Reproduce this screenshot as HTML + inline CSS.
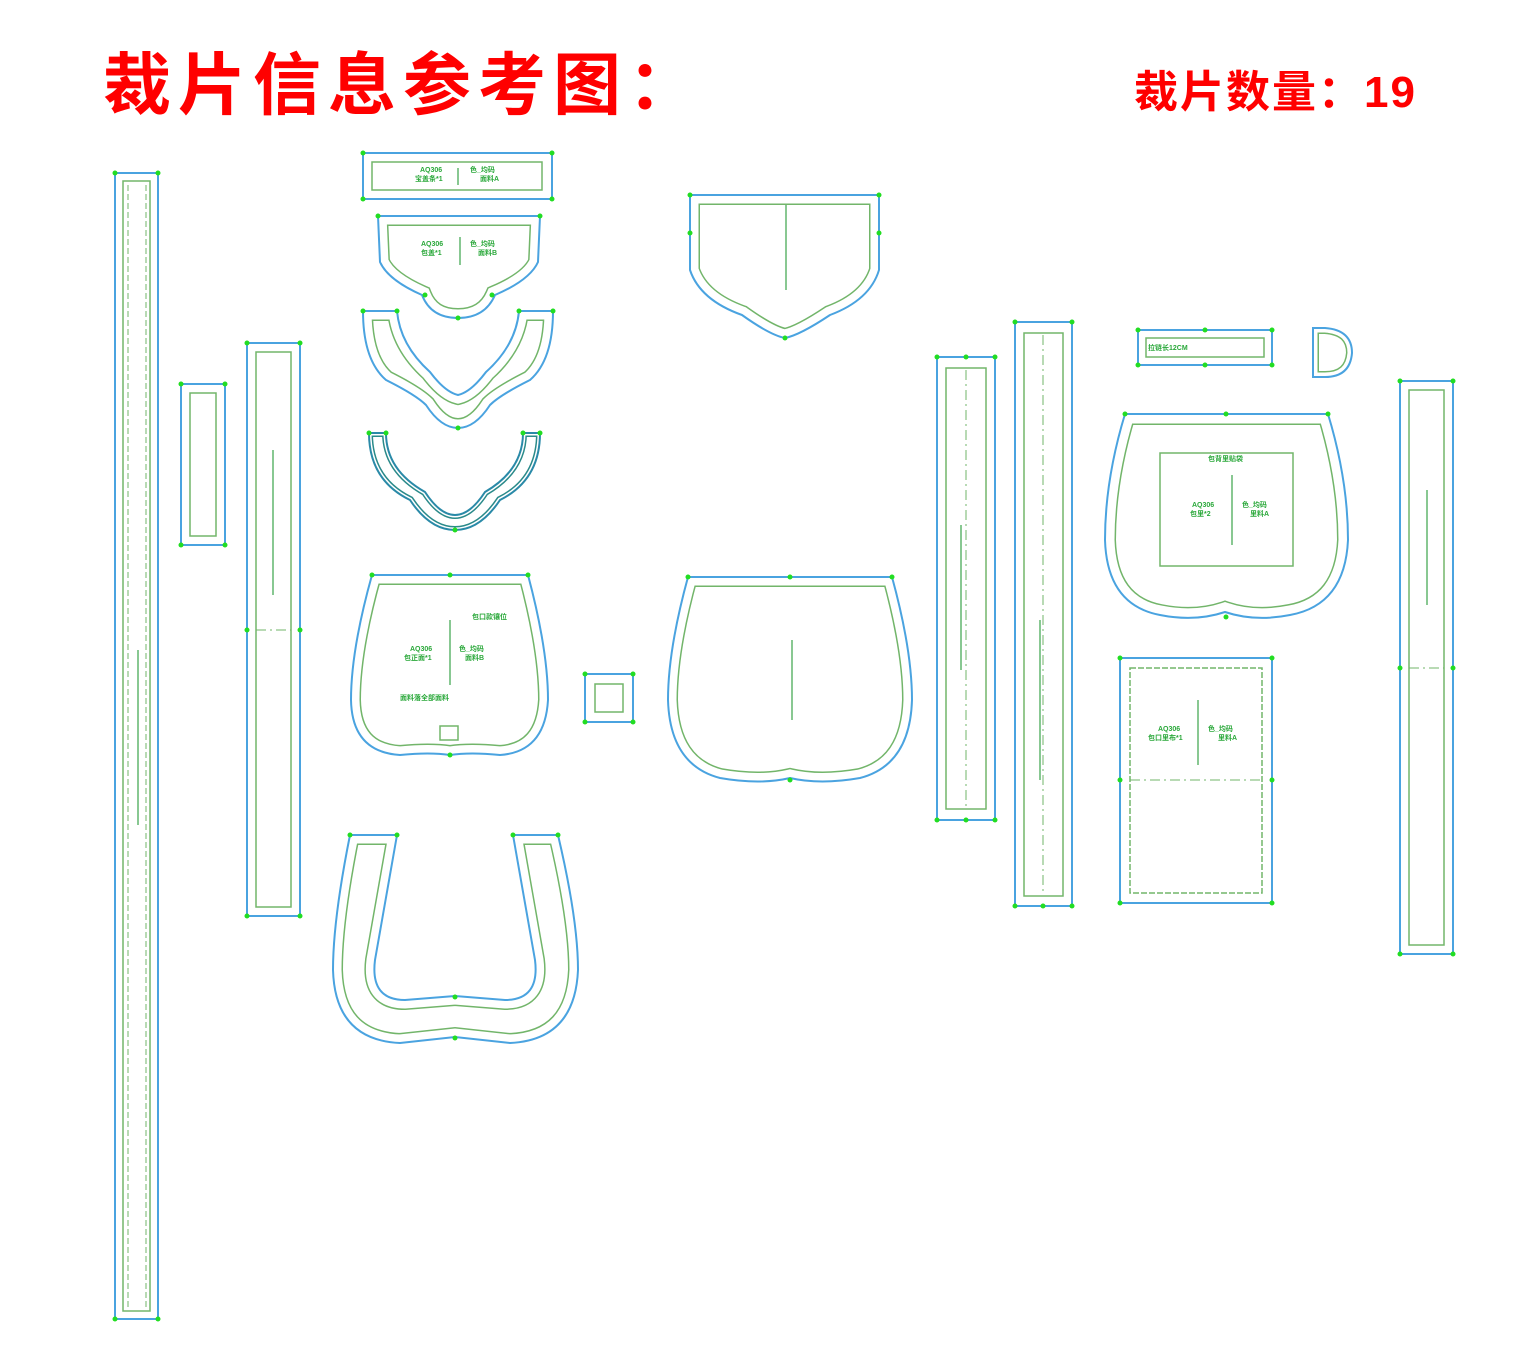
<!DOCTYPE html>
<html><head><meta charset="utf-8"><style>
html,body{margin:0;padding:0;background:#fff;}
body{width:1526px;height:1357px;position:relative;overflow:hidden;font-family:"Liberation Sans","Noto Sans CJK SC",sans-serif;}
.t1{position:absolute;left:103px;top:30px;font-size:68px;font-weight:bold;color:#f00;letter-spacing:7px;font-family:"Liberation Sans","Noto Sans CJK SC",sans-serif;}
.t2{position:absolute;left:1134px;top:56px;font-size:44px;font-weight:bold;color:#f00;letter-spacing:2px;font-family:"Liberation Sans","Noto Sans CJK SC",sans-serif;}
</style></head><body>
<div class="t1">裁片信息参考图：</div>
<div class="t2">裁片数量：19</div>
<svg width="1526" height="1357" style="position:absolute;left:0;top:0" xmlns="http://www.w3.org/2000/svg">
<defs>
<path id="p5" d="M378,216 L540,216 L538,262 Q530,280 495,295 Q485,318 458,318 Q431,318 422,295 Q388,280 380,262 Z"/>
<path id="p6" d="M363,311 L397,311 Q400,345 430,372 Q445,392 458,395 Q471,392 486,372 Q516,345 519,311 L553,311 Q553,360 530,380 Q500,395 490,405 Q475,428 458,428 Q441,428 426,405 Q416,395 386,380 Q363,360 363,311Z"/>
<path id="p7" d="M369,433 L386,433 Q386,470 425,492 Q440,515 455,515 Q470,515 485,492 Q523,470 523,433 L540,433 Q540,480 500,500 Q480,530 455,530 Q430,530 410,500 Q369,480 369,433Z"/>
<path id="p8" d="M372,575 L528,575 Q548,650 548,700 Q545,752 500,755 Q470,752 450,755 Q430,752 400,755 Q352,752 351,700 Q351,650 372,575Z"/>
<path id="p10" d="M350,835 L397,835 L375,960 Q370,1000 405,1000 L455,996 L505,1000 Q540,1000 535,960 L513,835 L558,835 Q578,920 578,970 Q575,1040 510,1043 L455,1037 L400,1043 Q335,1040 333,970 Q333,920 350,835Z"/>
<path id="p11" d="M690,195 L879,195 L879,270 Q870,300 830,315 Q800,335 785,338 Q770,335 742,315 Q700,300 690,270 Z"/>
<path id="p12" d="M688,577 L892,577 Q912,650 912,700 Q910,765 860,778 Q820,785 790,778 Q760,785 720,778 Q670,765 668,700 Q668,650 688,577 Z"/>
<path id="p16" d="M1313,328 L1325,328 Q1352,330 1352,353 Q1350,377 1325,377 L1313,377 Z"/>
<path id="p17" d="M1125,414 L1328,414 Q1348,480 1348,540 Q1345,605 1290,615 Q1255,622 1225,612 Q1195,622 1160,615 Q1107,605 1105,540 Q1105,480 1125,414Z"/>
<clipPath id="c5"><use href="#p5"/></clipPath>
<clipPath id="c6"><use href="#p6"/></clipPath>
<clipPath id="c7"><use href="#p7"/></clipPath>
<clipPath id="c8"><use href="#p8"/></clipPath>
<clipPath id="c10"><use href="#p10"/></clipPath>
<clipPath id="c11"><use href="#p11"/></clipPath>
<clipPath id="c12"><use href="#p12"/></clipPath>
<clipPath id="c16"><use href="#p16"/></clipPath>
<clipPath id="c17"><use href="#p17"/></clipPath>
</defs>
<g fill="none">
<g stroke="#72b56a">
<use href="#p5" stroke-width="20" clip-path="url(#c5)"/>
<use href="#p6" stroke-width="20" clip-path="url(#c6)"/>
<use href="#p7" stroke-width="8" clip-path="url(#c7)" stroke="#2a8a8a"/>
<use href="#p8" stroke-width="20" clip-path="url(#c8)"/>
<use href="#p10" stroke-width="20" clip-path="url(#c10)"/>
<use href="#p11" stroke-width="20" clip-path="url(#c11)"/>
<use href="#p12" stroke-width="20" clip-path="url(#c12)"/>
<use href="#p16" stroke-width="12" clip-path="url(#c16)"/>
<use href="#p17" stroke-width="22" clip-path="url(#c17)"/>
</g>
<g stroke="#fff">
<use href="#p5" stroke-width="17" clip-path="url(#c5)"/>
<use href="#p6" stroke-width="17" clip-path="url(#c6)"/>
<use href="#p7" stroke-width="5" clip-path="url(#c7)"/>
<use href="#p8" stroke-width="17" clip-path="url(#c8)"/>
<use href="#p10" stroke-width="17" clip-path="url(#c10)"/>
<use href="#p11" stroke-width="17" clip-path="url(#c11)"/>
<use href="#p12" stroke-width="17" clip-path="url(#c12)"/>
<use href="#p16" stroke-width="9" clip-path="url(#c16)"/>
<use href="#p17" stroke-width="19" clip-path="url(#c17)"/>
</g>
<g stroke="#4aa3e0" stroke-width="2">
<use href="#p5"/><use href="#p6"/><use href="#p7" stroke="#2a8aa8"/><use href="#p8"/><use href="#p10"/><use href="#p11"/><use href="#p12"/><use href="#p16"/><use href="#p17"/>
</g>
<g stroke="#4aa3e0" stroke-width="2">
<rect x="115" y="173" width="43" height="1146"/>
<rect x="181" y="384" width="44" height="161"/>
<rect x="247" y="343" width="53" height="573"/>
<rect x="363" y="153" width="189" height="46"/>
<rect x="585" y="674" width="48" height="48"/>
<rect x="937" y="357" width="58" height="463"/>
<rect x="1015" y="322" width="57" height="584"/>
<rect x="1138" y="330" width="134" height="35"/>
<rect x="1120" y="658" width="152" height="245"/>
<rect x="1400" y="381" width="53" height="573"/>
</g>
<g stroke="#72b56a" stroke-width="1.5">
<rect x="123" y="181" width="27" height="1130"/>
<rect x="190" y="393" width="26" height="143"/>
<rect x="256" y="352" width="35" height="555"/>
<rect x="372" y="162" width="170" height="28"/>
<rect x="595" y="684" width="28" height="28"/>
<rect x="946" y="368" width="40" height="441"/>
<rect x="1024" y="333" width="39" height="563"/>
<rect x="1146" y="338" width="118" height="19"/>
<rect x="1130" y="668" width="132" height="225" stroke-dasharray="6 2"/>
<rect x="1409" y="390" width="35" height="555"/>
<rect x="1160" y="453" width="133" height="113"/>
<rect x="440" y="726" width="18" height="14"/>
</g>
<g stroke="#72b56a" stroke-width="1" stroke-dasharray="10 4 2 4">
<line x1="966" y1="370" x2="966" y2="808"/>
<line x1="1043" y1="335" x2="1043" y2="895"/>
<line x1="1130" y1="780" x2="1262" y2="780"/>
<line x1="256" y1="630" x2="291" y2="630"/>
<line x1="1409" y1="668" x2="1444" y2="668"/>
<line x1="128" y1="185" x2="128" y2="1308" stroke-dasharray="6 3"/>
<line x1="146" y1="185" x2="146" y2="1308" stroke-dasharray="6 3"/>
</g>
<g stroke="#3aa34a" stroke-width="1.2">
<line x1="138" y1="650" x2="138" y2="825"/>
<line x1="273" y1="450" x2="273" y2="595"/>
<line x1="450" y1="620" x2="450" y2="685"/>
<line x1="792" y1="640" x2="792" y2="720"/>
<line x1="786" y1="205" x2="786" y2="290"/>
<line x1="961" y1="525" x2="961" y2="670"/>
<line x1="1040" y1="620" x2="1040" y2="780"/>
<line x1="1232" y1="475" x2="1232" y2="545"/>
<line x1="1198" y1="700" x2="1198" y2="765"/>
<line x1="1427" y1="490" x2="1427" y2="605"/>
<line x1="460" y1="237" x2="460" y2="265"/>
<line x1="458" y1="168" x2="458" y2="185"/>
</g>
</g>
<g fill="#2aa83a" font-size="7" font-weight="bold" font-family="Liberation Sans,Noto Sans CJK SC,sans-serif">
<text x="420" y="172">AQ306</text><text x="415" y="181">宝盖条*1</text><text x="470" y="172">色_均码</text><text x="480" y="181">面料A</text>
<text x="421" y="246">AQ306</text><text x="421" y="255">包盖*1</text><text x="470" y="246">色_均码</text><text x="478" y="255">面料B</text>
<text x="472" y="619">包口款镶位</text>
<text x="410" y="651">AQ306</text><text x="404" y="660">包正面*1</text><text x="459" y="651">色_均码</text><text x="465" y="660">面料B</text>
<text x="400" y="700">面料落全部面料</text>
<text x="1208" y="461">包背里贴袋</text>
<text x="1192" y="507">AQ306</text><text x="1190" y="516">包里*2</text><text x="1242" y="507">色_均码</text><text x="1250" y="516">里料A</text>
<text x="1158" y="731">AQ306</text><text x="1148" y="740">包口里布*1</text><text x="1208" y="731">色_均码</text><text x="1218" y="740">里料A</text>
<text x="1148" y="350">拉链长12CM</text>
</g>
<g fill="#22dd22">
<circle cx="115" cy="173" r="2.5"/><circle cx="158" cy="173" r="2.5"/><circle cx="115" cy="1319" r="2.5"/><circle cx="158" cy="1319" r="2.5"/>
<circle cx="181" cy="384" r="2.5"/><circle cx="225" cy="384" r="2.5"/><circle cx="181" cy="545" r="2.5"/><circle cx="225" cy="545" r="2.5"/>
<circle cx="247" cy="343" r="2.5"/><circle cx="300" cy="343" r="2.5"/><circle cx="247" cy="916" r="2.5"/><circle cx="300" cy="916" r="2.5"/><circle cx="247" cy="630" r="2.5"/><circle cx="300" cy="630" r="2.5"/>
<circle cx="363" cy="153" r="2.5"/><circle cx="552" cy="153" r="2.5"/><circle cx="363" cy="199" r="2.5"/><circle cx="552" cy="199" r="2.5"/>
<circle cx="378" cy="216" r="2.5"/><circle cx="540" cy="216" r="2.5"/><circle cx="458" cy="318" r="2.5"/><circle cx="425" cy="295" r="2.5"/><circle cx="492" cy="295" r="2.5"/>
<circle cx="363" cy="311" r="2.5"/><circle cx="397" cy="311" r="2.5"/><circle cx="519" cy="311" r="2.5"/><circle cx="553" cy="311" r="2.5"/><circle cx="458" cy="428" r="2.5"/>
<circle cx="369" cy="433" r="2.5"/><circle cx="386" cy="433" r="2.5"/><circle cx="523" cy="433" r="2.5"/><circle cx="540" cy="433" r="2.5"/><circle cx="455" cy="530" r="2.5"/>
<circle cx="372" cy="575" r="2.5"/><circle cx="528" cy="575" r="2.5"/><circle cx="450" cy="575" r="2.5"/><circle cx="450" cy="755" r="2.5"/>
<circle cx="585" cy="674" r="2.5"/><circle cx="633" cy="674" r="2.5"/><circle cx="585" cy="722" r="2.5"/><circle cx="633" cy="722" r="2.5"/>
<circle cx="350" cy="835" r="2.5"/><circle cx="397" cy="835" r="2.5"/><circle cx="513" cy="835" r="2.5"/><circle cx="558" cy="835" r="2.5"/><circle cx="455" cy="1038" r="2.5"/><circle cx="455" cy="997" r="2.5"/>
<circle cx="690" cy="195" r="2.5"/><circle cx="879" cy="195" r="2.5"/><circle cx="690" cy="233" r="2.5"/><circle cx="879" cy="233" r="2.5"/><circle cx="785" cy="338" r="2.5"/>
<circle cx="688" cy="577" r="2.5"/><circle cx="892" cy="577" r="2.5"/><circle cx="790" cy="577" r="2.5"/><circle cx="790" cy="780" r="2.5"/>
<circle cx="937" cy="357" r="2.5"/><circle cx="995" cy="357" r="2.5"/><circle cx="937" cy="820" r="2.5"/><circle cx="995" cy="820" r="2.5"/><circle cx="966" cy="357" r="2.5"/><circle cx="966" cy="820" r="2.5"/>
<circle cx="1015" cy="322" r="2.5"/><circle cx="1072" cy="322" r="2.5"/><circle cx="1015" cy="906" r="2.5"/><circle cx="1072" cy="906" r="2.5"/><circle cx="1043" cy="906" r="2.5"/>
<circle cx="1138" cy="330" r="2.5"/><circle cx="1272" cy="330" r="2.5"/><circle cx="1138" cy="365" r="2.5"/><circle cx="1272" cy="365" r="2.5"/><circle cx="1205" cy="330" r="2.5"/><circle cx="1205" cy="365" r="2.5"/>
<circle cx="1125" cy="414" r="2.5"/><circle cx="1328" cy="414" r="2.5"/><circle cx="1226" cy="414" r="2.5"/><circle cx="1226" cy="617" r="2.5"/>
<circle cx="1120" cy="658" r="2.5"/><circle cx="1272" cy="658" r="2.5"/><circle cx="1120" cy="903" r="2.5"/><circle cx="1272" cy="903" r="2.5"/><circle cx="1120" cy="780" r="2.5"/><circle cx="1272" cy="780" r="2.5"/>
<circle cx="1400" cy="381" r="2.5"/><circle cx="1453" cy="381" r="2.5"/><circle cx="1400" cy="954" r="2.5"/><circle cx="1453" cy="954" r="2.5"/><circle cx="1400" cy="668" r="2.5"/><circle cx="1453" cy="668" r="2.5"/>
</g>
</svg>
</body></html>
